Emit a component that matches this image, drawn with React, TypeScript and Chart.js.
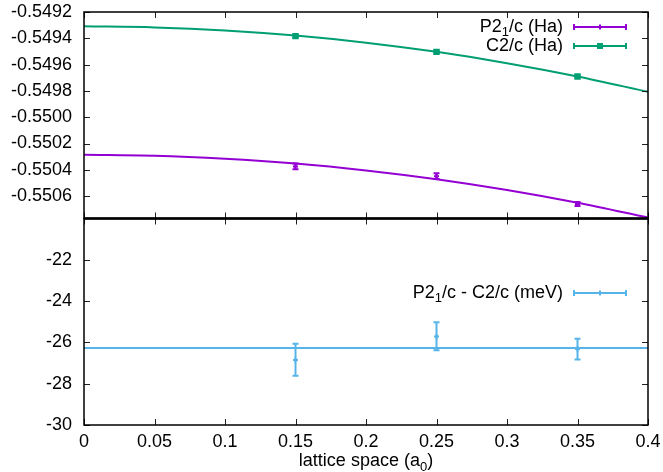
import React, { useEffect, useRef } from "react";
import { Chart, registerables } from "chart.js";

Chart.register(...registerables);

// ---- data ----
const X_TICKS = [0, 0.05, 0.1, 0.15, 0.2, 0.25, 0.3, 0.35, 0.4];
const TOP_TICKS = [-0.5506, -0.5504, -0.5502, -0.55, -0.5498, -0.5496, -0.5494, -0.5492];
const BOTTOM_TICKS = [-30, -28, -26, -24, -22];

const LATTICE = [0.15, 0.25, 0.35];

const P21C_HA = [-0.550374, -0.550448, -0.55066];
const P21C_ERR = [0.000022, 0.000022, 0.000015];
const C2C_HA = [-0.549383, -0.549503, -0.54969];
const C2C_ERR = [0.00001, 0.00001, 0.000008];

const FIT_X = [0, 0.05, 0.1, 0.15, 0.2, 0.25, 0.3, 0.35, 0.4];
const P21C_FIT = [-0.550285, -0.550292, -0.550315, -0.550352, -0.550405, -0.550472, -0.550554, -0.550651, -0.550763];
const C2C_FIT = [-0.549309, -0.549317, -0.54934, -0.549379, -0.549433, -0.549503, -0.549589, -0.54969, -0.549807];

const DIFF_MEV = [-26.85, -25.72, -26.32];
const DIFF_LOW = [-27.61, -26.38, -26.83];
const DIFF_HIGH = [-26.06, -25.02, -25.82];
const DIFF_FIT_X = [0, 0.4];
const DIFF_FIT = [-26.27, -26.27];

const TOP_MIN = -0.55077;
const TOP_MAX = -0.5492;
const BOT_MIN = -30;
const BOT_MAX = -20;

const PURPLE = "#9400d3";
const GREEN = "#009e73";
const BLUE = "#56b4e9";
const FONT = "'Liberation Sans', Arial, sans-serif";
const FS = 18;

type Part = { t: string; sub?: boolean };

function measureParts(ctx: CanvasRenderingContext2D, parts: Part[]) {
  let w = 0;
  for (const p of parts) {
    ctx.font = `${p.sub ? 13 : FS}px ${FONT}`;
    w += ctx.measureText(p.t).width;
  }
  return w;
}

function drawParts(ctx: CanvasRenderingContext2D, parts: Part[], x: number, y: number) {
  let cx = x;
  for (const p of parts) {
    ctx.font = `${p.sub ? 13 : FS}px ${FONT}`;
    ctx.fillText(p.t, cx, p.sub ? y + 5 : y);
    cx += ctx.measureText(p.t).width;
  }
}

const gnuplotPlugin = {
  id: "gnuplotDecor",
  afterDatasetsDraw(chart: any) {
    const ctx: CanvasRenderingContext2D = chart.ctx;
    const xs = chart.scales.x;
    chart.data.datasets.forEach((ds: any) => {
      if (!ds.errLow) return;
      const ys = chart.scales[ds.yAxisID];
      ctx.save();
      ctx.strokeStyle = ds.borderColor;
      ctx.lineWidth = 2;
      ds.data.forEach((p: any, i: number) => {
        const x = xs.getPixelForValue(p.x);
        const y1 = ys.getPixelForValue(ds.errLow[i]);
        const y2 = ys.getPixelForValue(ds.errHigh[i]);
        ctx.beginPath();
        ctx.moveTo(x, y1);
        ctx.lineTo(x, y2);
        ctx.moveTo(x - 3, y1);
        ctx.lineTo(x + 3, y1);
        ctx.moveTo(x - 3, y2);
        ctx.lineTo(x + 3, y2);
        ctx.stroke();
      });
      ctx.restore();
    });
  },
  afterDraw(chart: any) {
    const ctx: CanvasRenderingContext2D = chart.ctx;
    const { left, right, top, bottom } = chart.chartArea;
    const xs = chart.scales.x;
    const yT = chart.scales.yTop;
    const yB = chart.scales.yBot;
    const mid = yT.bottom;
    const TL = 6;
    ctx.save();
    // ticks
    ctx.strokeStyle = "#222";
    ctx.lineWidth = 1;
    ctx.beginPath();
    for (const v of TOP_TICKS) {
      const y = Math.round(yT.getPixelForValue(v)) + 0.5;
      ctx.moveTo(left, y); ctx.lineTo(left + TL, y);
      ctx.moveTo(right, y); ctx.lineTo(right - TL, y);
    }
    for (const v of BOTTOM_TICKS) {
      const y = Math.round(yB.getPixelForValue(v)) + 0.5;
      ctx.moveTo(left, y); ctx.lineTo(left + TL, y);
      ctx.moveTo(right, y); ctx.lineTo(right - TL, y);
    }
    for (const v of X_TICKS) {
      const x = Math.round(xs.getPixelForValue(v)) + 0.5;
      ctx.moveTo(x, top); ctx.lineTo(x, top + TL);
      ctx.moveTo(x, mid); ctx.lineTo(x, mid - TL);
      ctx.moveTo(x, mid); ctx.lineTo(x, mid + TL);
      ctx.moveTo(x, bottom); ctx.lineTo(x, bottom - TL);
    }
    ctx.stroke();
    // frames
    ctx.strokeStyle = "#000";
    ctx.lineWidth = 1.5;
    ctx.strokeRect(left, top, right - left, mid - top);
    ctx.strokeRect(left, mid, right - left, bottom - mid);
    ctx.lineWidth = 2.5;
    ctx.beginPath();
    ctx.moveTo(left, mid); ctx.lineTo(right, mid);
    ctx.stroke();

    // legends
    ctx.fillStyle = "#000";
    ctx.textBaseline = "middle";
    const rows = [
      { parts: [{ t: "P2" }, { t: "1", sub: true }, { t: "/c (Ha)" }], y: 27, color: PURPLE, marker: "cross" },
      { parts: [{ t: "C2/c (Ha)" }], y: 46, color: GREEN, marker: "rect" },
      { parts: [{ t: "P2" }, { t: "1", sub: true }, { t: "/c - C2/c (meV)" }], y: 293, color: BLUE, marker: "cross" },
    ];
    for (const r of rows) {
      const w = measureParts(ctx, r.parts as Part[]);
      ctx.fillStyle = "#000";
      drawParts(ctx, r.parts as Part[], 563 - w, r.y);
      ctx.strokeStyle = r.color;
      ctx.fillStyle = r.color;
      ctx.lineWidth = 2;
      ctx.beginPath();
      ctx.moveTo(574, r.y); ctx.lineTo(626, r.y);
      ctx.moveTo(574, r.y - 3); ctx.lineTo(574, r.y + 3);
      ctx.moveTo(626, r.y - 3); ctx.lineTo(626, r.y + 3);
      if (r.marker === "cross") {
        ctx.moveTo(600, r.y - 2.5); ctx.lineTo(600, r.y + 2.5);
      }
      ctx.stroke();
      if (r.marker === "rect") ctx.fillRect(597, r.y - 3, 6, 6);
    }

    // x axis title
    const tparts: Part[] = [{ t: "lattice space (a" }, { t: "0", sub: true }, { t: ")" }];
    const tw = measureParts(ctx, tparts);
    ctx.fillStyle = "#000";
    ctx.textBaseline = "alphabetic";
    drawParts(ctx, tparts, (left + right) / 2 - tw / 2, 466);
    ctx.restore();
  },
};

function pts(xs: number[], ys: number[]) {
  return xs.map((x, i) => ({ x, y: ys[i] }));
}

export default function App() {
  const ref = useRef<HTMLCanvasElement | null>(null);

  useEffect(() => {
    if (!ref.current) return;
    const yCommon = {
      type: "linear" as const,
      position: "left" as const,
      stack: "panels",
      stackWeight: 1,
      grid: { display: false, drawTicks: false },
      border: { display: false },
      afterFit: (s: any) => {
        s.width = 84;
        s.paddingTop = 0;
        s.paddingBottom = 0;
      },
    };
    const chart = new Chart(ref.current, {
      type: "scatter",
      data: {
        datasets: [
          {
            label: "P21/c fit", data: pts(FIT_X, P21C_FIT), yAxisID: "yTop", showLine: true,
            borderColor: PURPLE, borderWidth: 2, pointRadius: 0, cubicInterpolationMode: "monotone",
          },
          {
            label: "C2/c fit", data: pts(FIT_X, C2C_FIT), yAxisID: "yTop", showLine: true,
            borderColor: GREEN, borderWidth: 2, pointRadius: 0, cubicInterpolationMode: "monotone",
          },
          {
            label: "diff fit", data: pts(DIFF_FIT_X, DIFF_FIT), yAxisID: "yBot", showLine: true,
            borderColor: BLUE, borderWidth: 2, pointRadius: 0,
          },
          {
            label: "P21/c (Ha)", data: pts(LATTICE, P21C_HA), yAxisID: "yTop", showLine: false,
            borderColor: PURPLE, backgroundColor: PURPLE, pointStyle: "cross", pointRadius: 2.5, pointBorderWidth: 2,
            errLow: P21C_HA.map((v, i) => v - P21C_ERR[i]), errHigh: P21C_HA.map((v, i) => v + P21C_ERR[i]),
          } as any,
          {
            label: "C2/c (Ha)", data: pts(LATTICE, C2C_HA), yAxisID: "yTop", showLine: false,
            borderColor: GREEN, backgroundColor: GREEN, pointStyle: "rect", pointRadius: 4.5, pointBorderWidth: 0,
            errLow: C2C_HA.map((v, i) => v - C2C_ERR[i]), errHigh: C2C_HA.map((v, i) => v + C2C_ERR[i]),
          } as any,
          {
            label: "P21/c - C2/c (meV)", data: pts(LATTICE, DIFF_MEV), yAxisID: "yBot", showLine: false,
            borderColor: BLUE, backgroundColor: BLUE, pointStyle: "cross", pointRadius: 2.5, pointBorderWidth: 2,
            errLow: DIFF_LOW, errHigh: DIFF_HIGH,
          } as any,
        ],
      },
      options: {
        responsive: false,
        animation: false,
        layout: { padding: { top: 12, right: 15, left: 0, bottom: 0 } },
        plugins: { legend: { display: false }, tooltip: { enabled: false } },
        scales: {
          x: {
            type: "linear", min: 0, max: 0.4,
            grid: { display: false, drawTicks: false },
            border: { display: false },
            afterBuildTicks: (s: any) => { s.ticks = X_TICKS.map((v) => ({ value: v })); },
            ticks: {
              autoSkip: false, maxRotation: 0, minRotation: 0, padding: 6, color: "#000",
              font: { size: FS, family: FONT },
              callback: (v: any) => String(v),
            },
            afterFit: (s: any) => {
              s.height = 47;
              s.paddingLeft = 0;
              s.paddingRight = 0;
            },
          },
          yTop: {
            ...yCommon,
            weight: 1,
            min: TOP_MIN, max: TOP_MAX,
            afterBuildTicks: (s: any) => { s.ticks = TOP_TICKS.map((v) => ({ value: v })); },
            ticks: {
              autoSkip: false, padding: 12, color: "#000", font: { size: FS, family: FONT },
              callback: (v: any) => Number(v).toFixed(4),
            },
          },
          yBot: {
            ...yCommon,
            weight: 0,
            min: BOT_MIN, max: BOT_MAX,
            afterBuildTicks: (s: any) => { s.ticks = BOTTOM_TICKS.map((v) => ({ value: v })); },
            ticks: {
              autoSkip: false, padding: 12, color: "#000", font: { size: FS, family: FONT },
              callback: (v: any) => String(v),
            },
          },
        } as any,
      },
      plugins: [gnuplotPlugin],
    });
    return () => chart.destroy();
  }, []);

  return (
    <div style={{ position: "absolute", left: 0, top: 0, width: 663, height: 472, background: "#fff" }}>
      <canvas ref={ref} width={663} height={472} />
    </div>
  );
}
